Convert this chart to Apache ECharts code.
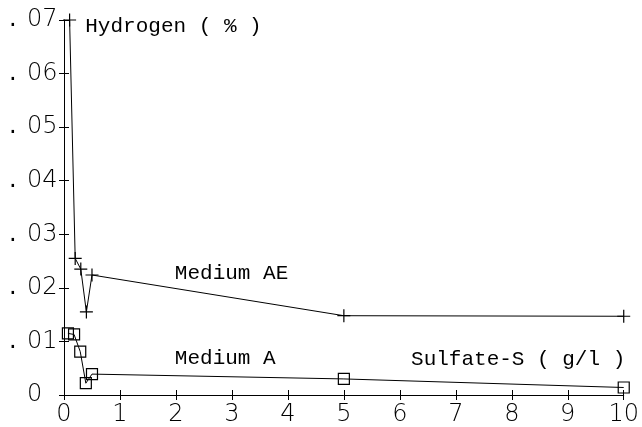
<!DOCTYPE html>
<html>
<head>
<meta charset="utf-8">
<script src="https://cdn.jsdelivr.net/npm/echarts@6/dist/echarts.min.js"></script>
<style>
  html, body { margin: 0; padding: 0; background: #fff; }
  #chart { width: 642px; height: 427px; }
</style>
</head>
<body>
<div id="chart"></div>
<script>
// sulfate-S (g/l) on x, hydrogen (%) on y
var aeX = [0.1, 0.2, 0.3, 0.4, 0.5, 5, 10];
var aeY = [0.07, 0.0255, 0.0235, 0.0155, 0.0224, 0.0148, 0.0147];
var aX = [0.07, 0.18, 0.29, 0.39, 0.5, 5, 10];
var aY = [0.0115, 0.0113, 0.0081, 0.0022, 0.0039, 0.0030, 0.0014];

var labelText = ['Hydrogen ( % )', 'Medium AE', 'Medium A', 'Sulfate-S ( g/l )'];
var labelX = [0.38, 1.98, 1.98, 6.2];
var labelY = [0.0688, 0.0226, 0.0068, 0.0066];

function pairs(xs, ys) {
  return xs.map(function (x, i) { return [x, ys[i]]; });
}

var chart = echarts.init(document.getElementById('chart'));
var tickFont = { fontFamily: 'DejaVu Sans', fontWeight: 200, fontSize: 24, color: '#000' };
var plusPath = 'path://M0,5L10,5M5,0L5,10';

var option = {
  animation: false,
  backgroundColor: '#fff',
  grid: { left: 64, right: 16, top: 20, bottom: 30 },
  xAxis: [
    {
      type: 'value', min: 0, max: 10, interval: 1,
      axisLine: { show: true, lineStyle: { color: '#000', width: 1 } },
      axisTick: { show: true, length: 5, lineStyle: { color: '#000' } },
      splitLine: { show: false },
      axisLabel: Object.assign({ margin: 8 }, tickFont)
    },
    {
      type: 'value', min: 0, max: 10, interval: 1, position: 'bottom',
      axisLine: { show: false },
      axisTick: { show: true, inside: true, length: 5, lineStyle: { color: '#000' } },
      splitLine: { show: false },
      axisLabel: { show: false }
    }
  ],
  yAxis: [
    {
      type: 'value', min: 0, max: 0.07, interval: 0.01,
      axisLine: { show: true, lineStyle: { color: '#000', width: 1 } },
      axisTick: { show: true, length: 5, lineStyle: { color: '#000' } },
      splitLine: { show: false },
      axisLabel: {
        align: 'left',
        margin: 55,
        formatter: function (v) {
          if (Math.abs(v) < 1e-9) return '{p| }{n|0}';
          return '{p|.}{n|' + v.toFixed(2).slice(2) + '}';
        },
        rich: {
          p: { width: 18, fontFamily: 'DejaVu Sans', fontSize: 24, color: '#000' },
          n: tickFont
        }
      }
    },
    {
      type: 'value', min: 0, max: 0.07, interval: 0.01, position: 'left',
      axisLine: { show: false },
      axisTick: { show: true, inside: true, length: 5, lineStyle: { color: '#000' } },
      splitLine: { show: false },
      axisLabel: { show: false }
    }
  ],
  series: [
    {
      name: 'Medium AE',
      type: 'line',
      data: pairs(aeX, aeY),
      symbol: plusPath,
      symbolSize: 13,
      lineStyle: { color: '#000', width: 1 },
      itemStyle: { color: 'transparent', borderColor: '#000', borderWidth: 1.2 }
    },
    {
      name: 'Medium A',
      type: 'line',
      data: pairs(aX, aY),
      symbol: 'rect',
      symbolSize: 11,
      lineStyle: { color: '#000', width: 1 },
      itemStyle: { color: 'rgba(255,255,255,0)', borderColor: '#000', borderWidth: 1.2 }
    }
  ]
};
chart.setOption(option);

// text annotations placed by data coordinates
var texts = labelText.map(function (t, i) {
  var p = chart.convertToPixel({ gridIndex: 0 }, [labelX[i], labelY[i]]);
  return {
    type: 'text',
    x: p[0], y: p[1],
    style: {
      text: t,
      fontFamily: 'Liberation Mono',
      fontSize: 21,
      fill: '#000',
      verticalAlign: 'middle',
      align: 'left'
    }
  };
});
chart.setOption({ graphic: texts });
</script>
</body>
</html>
